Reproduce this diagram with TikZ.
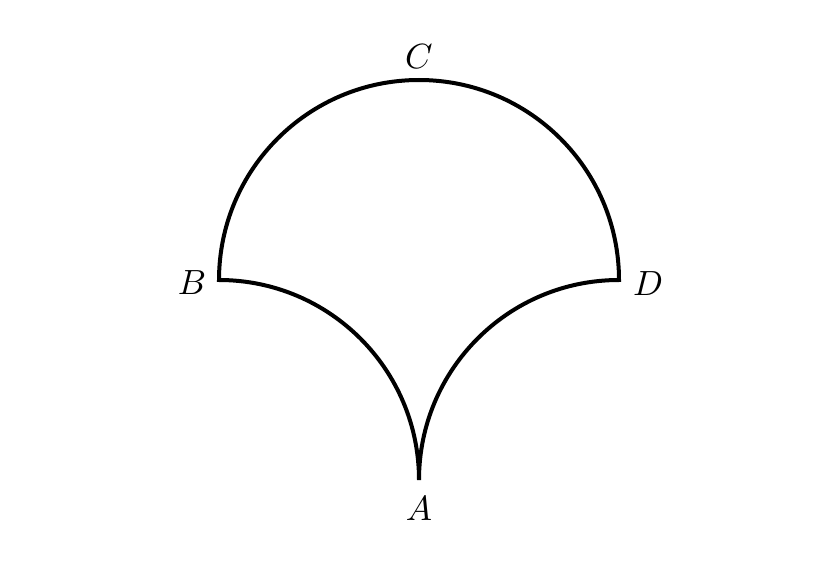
\documentclass[tikz,border=0pt]{standalone}
\usepackage{graphicx}
\begin{document}
\begin{tikzpicture}[x=1pt,y=-1pt,
  curve/.style={line width=4pt, line join=miter},
  lab/.style={inner sep=0pt}]
\useasboundingbox (0,0) rectangle (840,561);
\coordinate (B) at (219,280);
\coordinate (D) at (621,280);
\coordinate (A) at (419,480);
\coordinate (C) at (419,80);
\draw[curve] (B) arc[start angle=180, end angle=360, radius=200]
  arc[start angle=270, end angle=180, radius=200]
  arc[start angle=360, end angle=270, radius=200] -- cycle;
\node[lab] (lC) at (419,57) {\scalebox{3.5}{$C$}};
\node[lab] (lB) at (192,283) {\scalebox{3.5}{$B$}};
\node[lab] (lD) at (648,284) {\scalebox{3.5}{$D$}};
\node[lab] (lA) at (419,509) {\scalebox{3.5}{$A$}};
\end{tikzpicture}
\end{document}
